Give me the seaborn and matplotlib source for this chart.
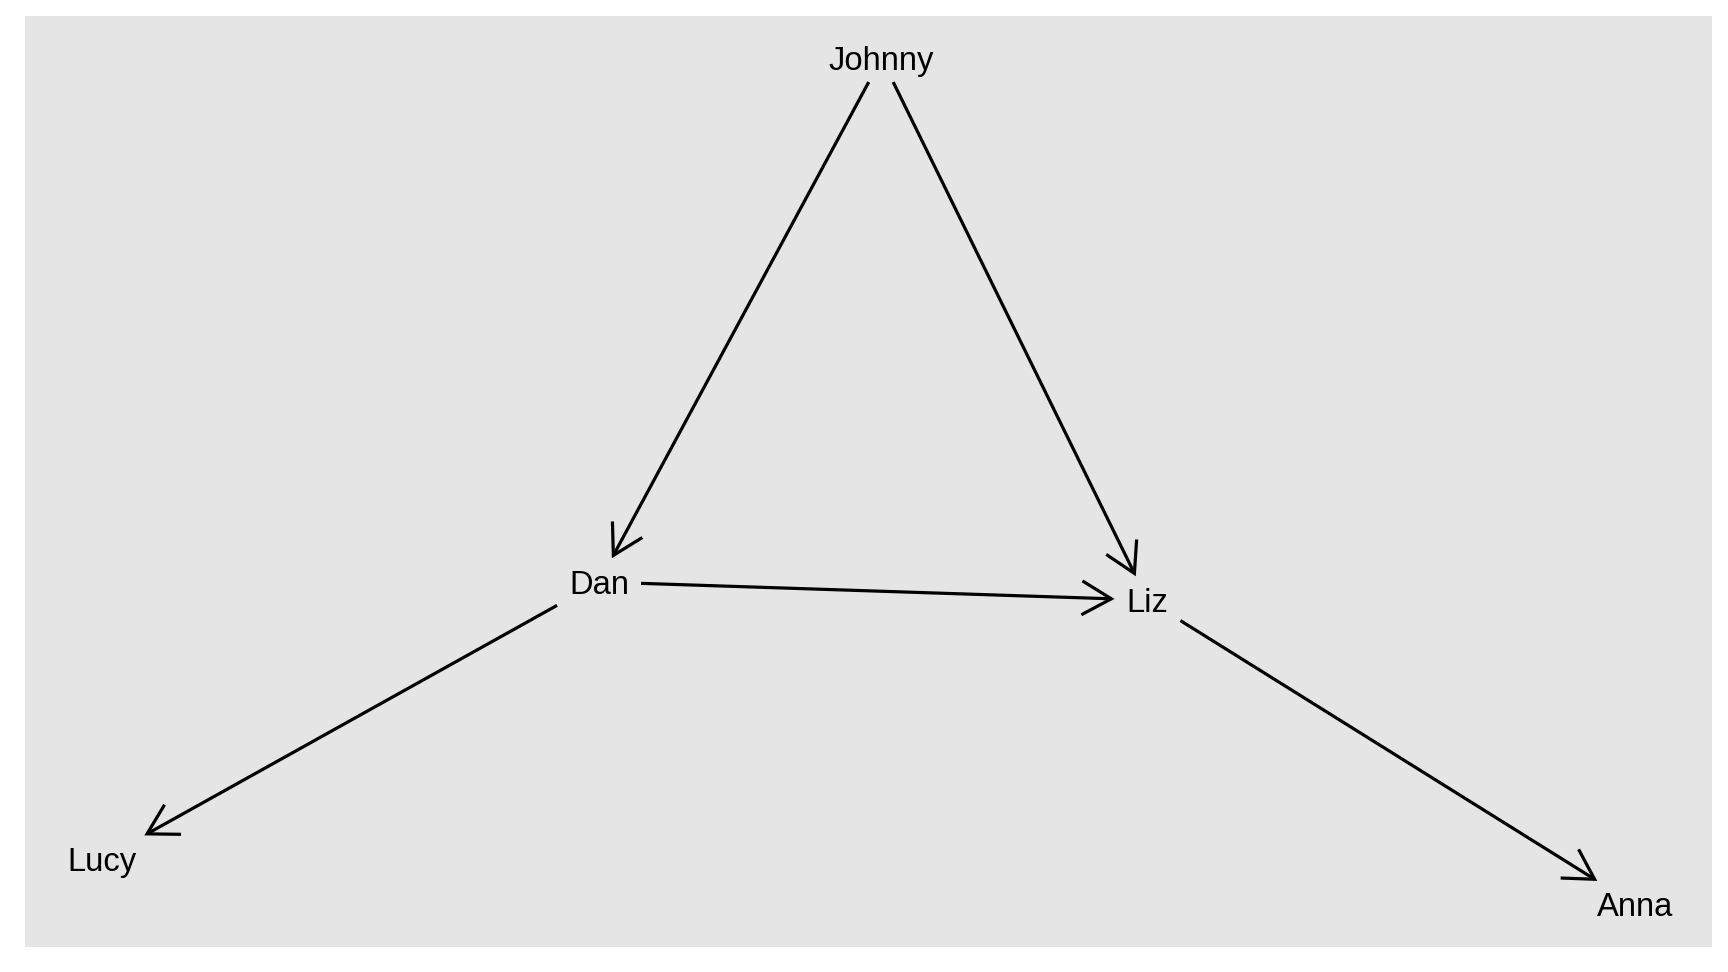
"""
Grafo dirigido simples: quem aponta para quem.
Layout normalizado em [0, 1], arestas cortadas no retangulo do rotulo.
"""

import matplotlib
matplotlib.use('Agg')
import matplotlib.pyplot as plt
from matplotlib.patches import FancyArrowPatch
import seaborn as sns
import numpy as np

# nos e posicoes
nomes = ['Johnny', 'Dan', 'Liz', 'Lucy', 'Anna']
pos_x = [0.5085, 0.3243, 0.6819, 0.0, 1.0]
pos_y = [1.0, 0.3813, 0.360, 0.0538, 0.0]

# arestas (origem -> destino)
origem = ['Johnny', 'Johnny', 'Dan', 'Dan', 'Liz']
destino = ['Dan', 'Liz', 'Liz', 'Lucy', 'Anna']

LARG, ALT, DPI = 1728, 972, 100
FONTE = 23.6
PAD_PX = 12          # ~1mm de folga em volta do rotulo
COR_FUNDO = '#E5E5E5'

sns.set_theme(style='white', rc={'axes.facecolor': COR_FUNDO,
                                 'figure.facecolor': 'white'})
plt.rcParams['font.family'] = ['Liberation Sans', 'DejaVu Sans']

fig = plt.figure(figsize=(LARG / DPI, ALT / DPI), dpi=DPI)
ax = fig.add_axes([25 / LARG, 1 - 947 / ALT, (1712 - 25) / LARG, (947 - 16) / ALT])
ax.set_xlim(-0.05, 1.05)
ax.set_ylim(-0.05, 1.05)
ax.set_xticks([])
ax.set_yticks([])
sns.despine(ax=ax, left=True, bottom=True)

idx = {n: i for i, n in enumerate(nomes)}

# rotulos centrados na altura das maiusculas
cap_pt = FONTE * 0.716
textos = []
for n, x, y in zip(nomes, pos_x, pos_y):
    t = ax.annotate(n, (x, y), xytext=(0, -cap_pt / 2), textcoords='offset points',
                    ha='center', va='baseline', fontsize=FONTE, color='black')
    textos.append(t)

fig.canvas.draw()
renderer = fig.canvas.get_renderer()
meia_larg = [t.get_window_extent(renderer).width / 2 + PAD_PX for t in textos]
meia_alt = cap_pt * DPI / 72 / 2 + PAD_PX


def corte(i, direcao):
    """distancia (px) do centro ate a borda do retangulo do rotulo"""
    dx, dy = abs(direcao[0]), abs(direcao[1])
    tx = meia_larg[i] / dx if dx > 1e-9 else np.inf
    ty = meia_alt / dy if dy > 1e-9 else np.inf
    return min(tx, ty)


inv = ax.transData.inverted()
for a, b in zip(origem, destino):
    ia, ib = idx[a], idx[b]
    pa = ax.transData.transform((pos_x[ia], pos_y[ia]))
    pb = ax.transData.transform((pos_x[ib], pos_y[ib]))
    v = pb - pa
    u = v / np.hypot(*v)
    ini = pa + u * corte(ia, u)
    fim = pb - u * corte(ib, u)
    seta = FancyArrowPatch(inv.transform(ini), inv.transform(fim),
                           arrowstyle='->,head_length=21.2,head_width=12.2',
                           mutation_scale=1, lw=2.3, color='black',
                           shrinkA=0, shrinkB=0, capstyle='butt',
                           joinstyle='miter')
    ax.add_patch(seta)

fig.savefig('out.png', dpi=DPI, facecolor='white')
